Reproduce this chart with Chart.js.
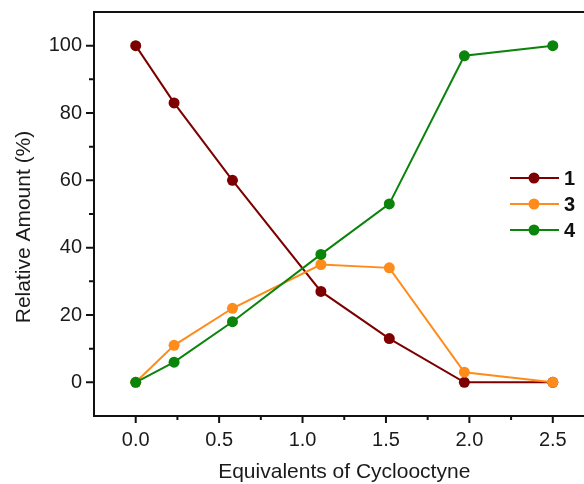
<!DOCTYPE html>
<html>
<head>
<meta charset="utf-8">
<script src="https://cdn.jsdelivr.net/npm/chart.js@4"></script>
<style>
  html, body { margin: 0; padding: 0; background: #fff; overflow: hidden; }
  #wrap { width: 600px; height: 484px; }
</style>
</head>
<body>
<div id="wrap"><canvas id="chart" width="600" height="484"></canvas></div>
<script>
const equivalents = [0, 0.23, 0.58, 1.11, 1.52, 1.97, 2.5];
const amount1 = [100, 83, 60, 27, 13, 0, 0];
const amount3 = [0, 11, 22, 35, 34, 3, 0];
const amount4 = [0, 6, 18, 38, 53, 97, 100];
const seriesNames = ['1', '3', '4'];
const seriesColors = ['#7d0000', '#ff8c1a', '#0b840b'];

const xMajor = [0, 0.5, 1, 1.5, 2, 2.5];
const xMinor = [0.25, 0.75, 1.25, 1.75, 2.25];
const yMajor = [0, 20, 40, 60, 80, 100];
const yMinor = [10, 30, 50, 70, 90];

const FONT = "'Liberation Sans', Arial, sans-serif";

function points(ys) {
    return equivalents.map((x, i) => ({x: x, y: ys[i]}));
}

function makeSet(i, ys, order) {
    return {
        label: seriesNames[i],
        data: points(ys),
        borderColor: seriesColors[i],
        backgroundColor: seriesColors[i],
        borderWidth: 2,
        pointRadius: 5.5,
        pointBorderWidth: 0,
        tension: 0,
        order: order
    };
}

// box, minor/major ticks, legend and titles
const extras = {
    id: 'extras',
    afterDraw(chart) {
        const c = chart.ctx;
        const a = chart.chartArea;
        const xs = chart.scales.x, ys = chart.scales.y;
        c.save();
        c.strokeStyle = '#111';
        c.lineWidth = 2;
        c.beginPath();
        c.moveTo(a.left - 1, a.top);
        c.lineTo(a.right, a.top);
        c.lineTo(a.right, a.bottom);
        xMajor.forEach(v => { const p = xs.getPixelForValue(v); c.moveTo(p, a.bottom); c.lineTo(p, a.bottom + 7); });
        xMinor.forEach(v => { const p = xs.getPixelForValue(v); c.moveTo(p, a.bottom); c.lineTo(p, a.bottom + 4); });
        yMajor.forEach(v => { const p = ys.getPixelForValue(v); c.moveTo(a.left, p); c.lineTo(a.left - 8, p); });
        yMinor.forEach(v => { const p = ys.getPixelForValue(v); c.moveTo(a.left, p); c.lineTo(a.left - 5, p); });
        c.stroke();

        // legend
        chart.data.datasets.forEach((ds, i) => {
            const y = 178 + i * 26;
            c.strokeStyle = ds.borderColor;
            c.lineWidth = 2;
            c.beginPath();
            c.moveTo(510, y);
            c.lineTo(559, y);
            c.stroke();
            c.fillStyle = ds.borderColor;
            c.beginPath();
            c.arc(534, y, 5.5, 0, Math.PI * 2);
            c.fill();
            c.fillStyle = '#111';
            c.font = 'bold 20px ' + FONT;
            c.textAlign = 'left';
            c.textBaseline = 'middle';
            c.fillText(ds.label, 564, y + 1);
        });

        // axis titles
        c.fillStyle = '#1a1a1a';
        c.font = '21px ' + FONT;
        c.textAlign = 'center';
        c.textBaseline = 'middle';
        c.fillText('Equivalents of Cyclooctyne', (a.left + a.right) / 2, 472);
        c.translate(24, 227);
        c.rotate(-Math.PI / 2);
        c.fillText('Relative Amount (%)', 0, 0);
        c.restore();
    }
};

new Chart(document.getElementById('chart'), {
    type: 'line',
    data: {
        datasets: [
            makeSet(0, amount1, 3),
            makeSet(1, amount3, 2),
            makeSet(2, amount4, 1)
        ]
    },
    options: {
        responsive: false,
        animation: false,
        layout: { padding: { top: 12, right: 5, left: 0, bottom: 0 } },
        plugins: { legend: { display: false }, tooltip: { enabled: false } },
        scales: {
            x: {
                type: 'linear',
                min: -0.25,
                max: 2.75,
                afterBuildTicks: s => { s.ticks = xMajor.map(v => ({value: v})); },
                afterFit: s => { s.height = 68; s.paddingLeft = 0; s.paddingRight = 0; },
                grid: { display: false, drawTicks: false },
                border: { display: true, color: '#111', width: 2 },
                ticks: {
                    padding: 12,
                    color: '#1a1a1a',
                    font: { family: FONT, size: 20 },
                    callback: v => v.toFixed(1)
                }
            },
            y: {
                min: -10,
                max: 110,
                afterBuildTicks: s => { s.ticks = yMajor.map(v => ({value: v})); },
                afterFit: s => { s.width = 94; s.paddingTop = 0; s.paddingBottom = 0; },
                grid: { display: false, drawTicks: false },
                border: { display: true, color: '#111', width: 2 },
                ticks: {
                    padding: 12,
                    color: '#1a1a1a',
                    font: { family: FONT, size: 20 },
                    callback: v => String(v)
                }
            }
        }
    },
    plugins: [extras]
});
</script>
</body>
</html>
